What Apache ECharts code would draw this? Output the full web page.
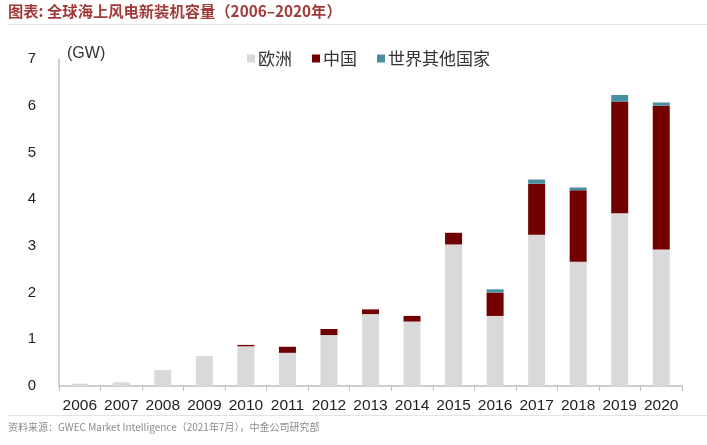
<!DOCTYPE html>
<html><head><meta charset="utf-8">
<script src="https://cdn.jsdelivr.net/npm/echarts@6/dist/echarts.min.js"></script>
<style>html,body{margin:0;padding:0;background:#fff}#c{width:707px;height:445px}</style>
</head><body><div id="c"></div>
<script>
const years = ['2006','2007','2008','2009','2010','2011','2012','2013','2014','2015','2016','2017','2018','2019','2020'];
const europe = [0.05,0.08,0.34,0.64,0.85,0.71,1.09,1.54,1.38,3.03,1.50,3.24,2.66,3.70,2.92];
const china  = [0,0,0,0,0.03,0.13,0.13,0.10,0.12,0.25,0.50,1.09,1.53,2.39,3.08];
const others = [0,0,0,0,0,0,0,0,0,0,0.07,0.09,0.06,0.14,0.07];
const yTicks = [0,1,2,3,4,5,6,7];

const chart = echarts.init(document.getElementById('c'));
const font = '"Liberation Sans", Arial, "Noto Sans CJK SC", sans-serif';
chart.setOption({
  animation:false,
  textStyle:{fontFamily:font},
  graphic:[
    {type:'text',left:8,top:4,style:{text:'图表: 全球海上风电新装机容量（2006–2020年）',fill:'#a33a3a',font:'bold 15.3px "Noto Sans CJK SC", sans-serif'}},
    {type:'line',shape:{x1:8,y1:24.5,x2:707,y2:24.5},style:{stroke:'#e3e3e3',lineWidth:1}},
    {type:'line',shape:{x1:8,y1:415.5,x2:707,y2:415.5},style:{stroke:'#e3e3e3',lineWidth:1}},
    {type:'text',left:8,top:422,style:{text:'资料来源：GWEC Market Intelligence（2021年7月），中金公司研究部',fill:'#8c8c8c',font:'10px "Noto Sans CJK SC", sans-serif'}},
    {type:'text',left:67,top:46,style:{text:'(GW)',fill:'#333',font:'16px "Liberation Sans", Arial, sans-serif'}}
  ],
  legend:{
    left:242,top:45,itemWidth:8,itemHeight:8,itemGap:20,icon:'rect',
    textStyle:{fontSize:17,color:'#333',fontFamily:'"Noto Sans CJK SC", sans-serif',padding:[0,0,0,-2]},
    data:['欧洲','中国','世界其他国家']
  },
  grid:{left:59,right:25,top:59,bottom:59,containLabel:false},
  xAxis:{
    type:'category',data:years,
    axisLine:{lineStyle:{color:'#bfbfbf',width:1.5}},
    axisTick:{show:true,alignWithLabel:false,length:5,lineStyle:{color:'#bfbfbf'}},
    axisLabel:{color:'#222',fontSize:15.5,margin:12,interval:0,hideOverlap:false}
  },
  yAxis:{
    type:'value',min:0,max:7,interval:1,
    axisLine:{show:true,lineStyle:{color:'#bfbfbf',width:1.5}},
    axisTick:{show:false},splitLine:{show:false},
    axisLabel:{color:'#222',fontSize:15,margin:23,
      formatter:v=>yTicks.includes(v)?String(v):''}
  },
  series:[
    {name:'欧洲',type:'bar',stack:'a',data:europe,barWidth:17,itemStyle:{color:'#d9d9d9'}},
    {name:'中国',type:'bar',stack:'a',data:china,barWidth:17,itemStyle:{color:'#720000'}},
    {name:'世界其他国家',type:'bar',stack:'a',data:others,barWidth:17,itemStyle:{color:'#4a8fa0'}}
  ]
});
</script></body></html>
